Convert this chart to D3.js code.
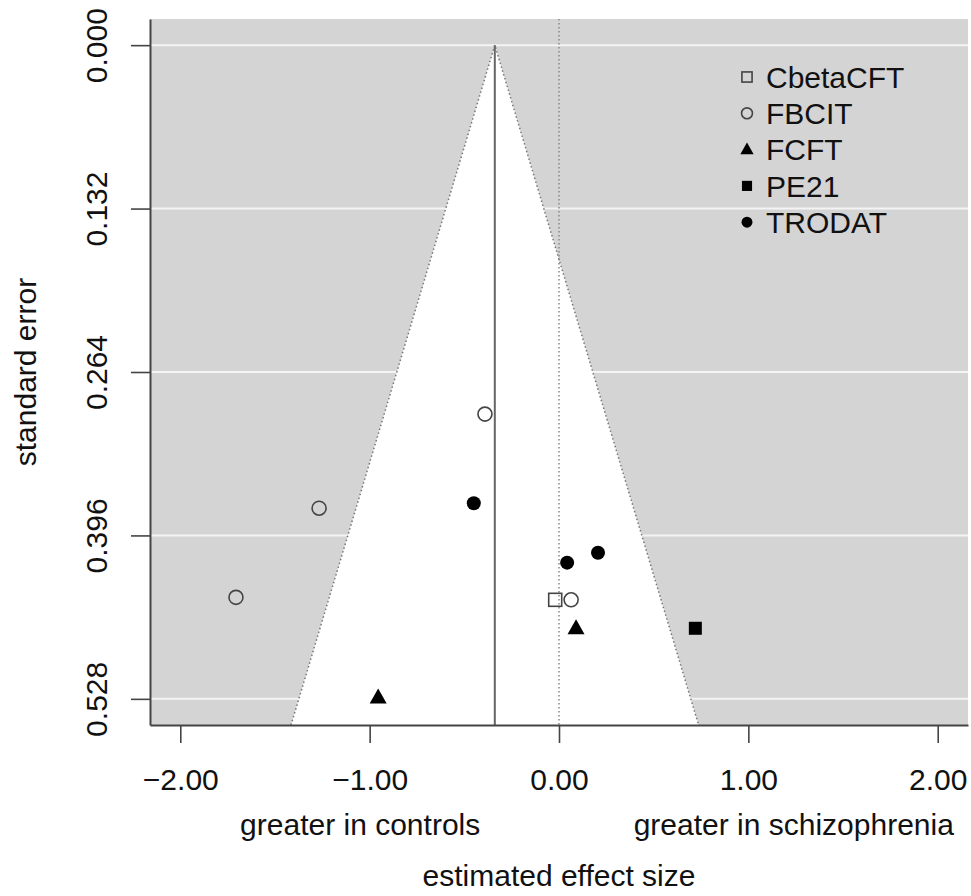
<!DOCTYPE html>
<html>
<head>
<meta charset="utf-8">
<script src="https://cdn.jsdelivr.net/npm/d3@7"></script>
<style>
  body { margin: 0; background: #fff; }
  text { font-family: "Liberation Sans", Arial, Helvetica, sans-serif; fill: #111; }
</style>
</head>
<body>
<div id="funnel"></div>
<script>
// study values
var tracers = ["CbetaCFT", "FBCIT", "FCFT", "PE21", "TRODAT"];
var studyTracer = ["FBCIT", "FBCIT", "FBCIT", "FBCIT", "CbetaCFT", "TRODAT", "TRODAT", "TRODAT", "FCFT", "FCFT", "PE21"];
var studyEffect = [-0.391, -1.267, -1.706, 0.064, -0.020, -0.450, 0.043, 0.206, 0.090, -0.955, 0.720];
var studySE = [0.298, 0.374, 0.446, 0.448, 0.448, 0.370, 0.418, 0.410, 0.471, 0.527, 0.471];
var pooledEffect = -0.339;

var xTicks = [-2, -1, 0, 1, 2];
var yTicks = [0, 0.132, 0.264, 0.396, 0.528];

var svgWidth = 971, svgHeight = 896;
var margin = { top: 19, right: 3, bottom: 171, left: 150 };
var width = svgWidth - margin.left - margin.right;
var height = svgHeight - margin.top - margin.bottom;

var svg = d3.select("#funnel").append("svg")
  .attr("width", svgWidth)
  .attr("height", svgHeight);

var chartGroup = svg.append("g")
  .attr("transform", `translate(${margin.left}, ${margin.top})`);

// R style 4% padding on both axes
var yPad = 0.04 * 0.528;
var xScale = d3.scaleLinear().domain([-2.16, 2.16]).range([0, width]);
var yScale = d3.scaleLinear().domain([-yPad, 0.528 + yPad]).range([0, height]);
var seMax = yScale.domain()[1];

// background
chartGroup.append("rect")
  .attr("width", width)
  .attr("height", height)
  .attr("fill", "#d4d4d4");

chartGroup.selectAll(".grid")
  .data(yTicks)
  .enter()
  .append("line")
  .attr("x1", 0)
  .attr("x2", width)
  .attr("y1", d => yScale(d))
  .attr("y2", d => yScale(d))
  .attr("stroke", "#f4f4f4")
  .attr("stroke-width", 2);

// funnel (95% region)
var funnelPts = [
  [pooledEffect - 1.96 * seMax, seMax],
  [pooledEffect, 0],
  [pooledEffect + 1.96 * seMax, seMax]
];
chartGroup.append("path")
  .attr("d", d3.line()(funnelPts.map(p => [xScale(p[0]), yScale(p[1])])) + "Z")
  .attr("fill", "#fff");

chartGroup.append("path")
  .attr("d", d3.line()(funnelPts.map(p => [xScale(p[0]), yScale(p[1])])))
  .attr("fill", "none")
  .attr("stroke", "#777")
  .attr("stroke-width", 1.5)
  .attr("stroke-dasharray", "1.5,2.5");

// pooled estimate and zero line
chartGroup.append("line")
  .attr("x1", xScale(pooledEffect))
  .attr("x2", xScale(pooledEffect))
  .attr("y1", yScale(0))
  .attr("y2", height)
  .attr("stroke", "#666")
  .attr("stroke-width", 2);

chartGroup.append("line")
  .attr("x1", xScale(0))
  .attr("x2", xScale(0))
  .attr("y1", 0)
  .attr("y2", height)
  .attr("stroke", "#888")
  .attr("stroke-width", 1.5)
  .attr("stroke-dasharray", "1.5,2.5");

// symbol per tracer
function drawSymbol(g, tracer, cx, cy, s) {
  if (tracer === "CbetaCFT" || tracer === "PE21") {
    g.append("rect")
      .attr("x", cx - 6.5 * s).attr("y", cy - 6.5 * s)
      .attr("width", 13 * s).attr("height", 13 * s)
      .attr("fill", tracer === "PE21" ? "#000" : "none")
      .attr("stroke", tracer === "PE21" ? "none" : "#444")
      .attr("stroke-width", 1.6);
  } else if (tracer === "FBCIT" || tracer === "TRODAT") {
    g.append("circle")
      .attr("cx", cx).attr("cy", cy)
      .attr("r", 7 * s)
      .attr("fill", tracer === "TRODAT" ? "#000" : "none")
      .attr("stroke", tracer === "TRODAT" ? "none" : "#444")
      .attr("stroke-width", 1.6);
  } else {
    g.append("path")
      .attr("d", `M${cx},${cy - 9 * s}L${cx + 8.5 * s},${cy + 6 * s}L${cx - 8.5 * s},${cy + 6 * s}Z`)
      .attr("fill", "#000");
  }
}

var pointsGroup = chartGroup.append("g");
studyEffect.forEach((e, i) => {
  drawSymbol(pointsGroup, studyTracer[i], xScale(e), yScale(studySE[i]), 1);
});

// axes
var bottomAxis = d3.axisBottom(xScale)
  .tickValues(xTicks)
  .tickFormat(d3.format(".2f"))
  .tickSize(18)
  .tickSizeOuter(0)
  .tickPadding(30);
var leftAxis = d3.axisLeft(yScale)
  .tickValues(yTicks)
  .tickFormat(d3.format(".3f"))
  .tickSize(19)
  .tickSizeOuter(0);

var xAxisG = chartGroup.append("g")
  .attr("transform", `translate(0, ${height})`)
  .call(bottomAxis);
xAxisG.selectAll("text")
  .attr("dy", null)
  .attr("y", 65)
  .style("font-size", "30px")
  .style("font-family", "'Liberation Sans', Arial, sans-serif")
  .attr("fill", "#111");

var yAxisG = chartGroup.append("g")
  .call(leftAxis);
yAxisG.selectAll("text")
  .attr("x", null)
  .attr("dy", null)
  .attr("text-anchor", "middle")
  .attr("transform", "translate(-43, 0) rotate(-90)")
  .style("font-size", "30px")
  .style("font-family", "'Liberation Sans', Arial, sans-serif")
  .attr("fill", "#111");

[xAxisG, yAxisG].forEach(a => {
  a.select(".domain").attr("stroke", "#444").attr("stroke-width", 2);
  a.selectAll(".tick line").attr("stroke", "#444").attr("stroke-width", 1.6);
});

// legend
var legendGroup = svg.append("g");
tracers.forEach((t, i) => {
  var cy = 77 + i * 36.3;
  drawSymbol(legendGroup, t, 747, cy, 0.78);
  legendGroup.append("text")
    .attr("x", 766)
    .attr("y", cy + 10.7)
    .style("font-size", "30px")
    .text(t);
});

// axis titles
chartGroup.append("text")
  .attr("x", xScale(-1.05))
  .attr("y", height + 110)
  .attr("text-anchor", "middle")
  .style("font-size", "30px")
  .text("greater in controls");

chartGroup.append("text")
  .attr("x", xScale(1.24))
  .attr("y", height + 110)
  .attr("text-anchor", "middle")
  .style("font-size", "30px")
  .text("greater in schizophrenia");

chartGroup.append("text")
  .attr("x", xScale(0))
  .attr("y", height + 161)
  .attr("text-anchor", "middle")
  .style("font-size", "30px")
  .text("estimated effect size");

chartGroup.append("text")
  .attr("transform", "rotate(-90)")
  .attr("x", -height / 2)
  .attr("y", -114)
  .attr("text-anchor", "middle")
  .style("font-size", "30px")
  .text("standard error");
</script>
</body>
</html>
